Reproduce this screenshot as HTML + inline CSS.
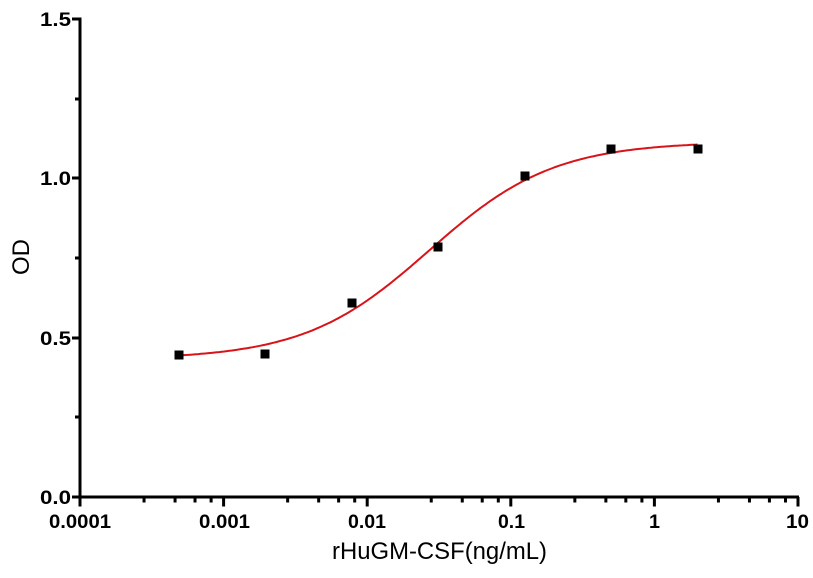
<!DOCTYPE html>
<html><head><style>
html,body{margin:0;padding:0;background:#fff}
svg text{font-family:"Liberation Sans",Arial,sans-serif}
</style></head><body>
<svg id="s" width="813" height="573" viewBox="0 0 813 573" xmlns="http://www.w3.org/2000/svg">
<g stroke="#000" stroke-width="3" fill="none">
<line x1="80" y1="17.5" x2="80" y2="498.5"/>
<line x1="78.5" y1="497" x2="799" y2="497"/>
<line x1="72" y1="19" x2="80" y2="19"/>
<line x1="75" y1="99" x2="80" y2="99"/>
<line x1="72" y1="178" x2="80" y2="178"/>
<line x1="75" y1="258" x2="80" y2="258"/>
<line x1="72" y1="338" x2="80" y2="338"/>
<line x1="75" y1="417" x2="80" y2="417"/>
<line x1="72" y1="497" x2="80" y2="497"/>
</g>
<g id="xt" stroke="#000" stroke-width="3"></g>
<g font-weight="bold" font-size="19" text-anchor="end" fill="#000">
<text x="71" y="26" textLength="31" lengthAdjust="spacingAndGlyphs">1.5</text>
<text x="71" y="185" textLength="31" lengthAdjust="spacingAndGlyphs">1.0</text>
<text x="71" y="345" textLength="31" lengthAdjust="spacingAndGlyphs">0.5</text>
<text x="71" y="504" textLength="31" lengthAdjust="spacingAndGlyphs">0.0</text>
</g>
<g font-weight="bold" font-size="19" fill="#000">
<text x="49" y="528" textLength="62" lengthAdjust="spacingAndGlyphs">0.0001</text>
<text x="199" y="528" textLength="51" lengthAdjust="spacingAndGlyphs">0.001</text>
<text x="348" y="528" textLength="38" lengthAdjust="spacingAndGlyphs">0.01</text>
<text x="498" y="528" textLength="27" lengthAdjust="spacingAndGlyphs">0.1</text>
<text x="649" y="528" textLength="11" lengthAdjust="spacingAndGlyphs">1</text>
<text x="786" y="528" textLength="23" lengthAdjust="spacingAndGlyphs">10</text>
</g>
<text x="332" y="559" font-size="24" textLength="215" lengthAdjust="spacingAndGlyphs">rHuGM-CSF(ng/mL)</text>
<text transform="translate(29,257) rotate(-90)" font-size="24" text-anchor="middle">OD</text>
<path id="c" fill="none" stroke="#d8141a" stroke-width="2"/>
<g fill="#000">
<rect x="174.5" y="350.5" width="9" height="9"/>
<rect x="260.5" y="349.5" width="9" height="9"/>
<rect x="347.5" y="298.5" width="9" height="9"/>
<rect x="433.5" y="242.5" width="9" height="9"/>
<rect x="520.5" y="171.5" width="9" height="9"/>
<rect x="606.5" y="144.5" width="9" height="9"/>
<rect x="693.5" y="144.5" width="9" height="9"/>
</g>
</svg>
<script>
var D=143.6,X0=80,Y0=497,S=318.7;
var g=document.getElementById('xt'),h='';
var fr=[0,0.446,0.662,0.801,0.913];
for(var d=0;d<5;d++){for(var k=0;k<fr.length;k++){var x=X0+D*(d+fr[k]);var L=k==0?8:4;h+='<line x1="'+x+'" y1="497" x2="'+x+'" y2="'+(497+L+1.5)+'"/>';}}
h+='<line x1="'+(X0+5*D)+'" y1="497" x2="'+(X0+5*D)+'" y2="506.5"/>';
g.innerHTML=h;
var b=0.432,t=1.115,lec=Math.log10(0.027),n=1.0,p='';
for(var i=0;i<=200;i++){var lx=Math.log10(0.0005)+(Math.log10(2)-Math.log10(0.0005))*i/200;
var y=b+(t-b)/(1+Math.pow(10,(lec-lx)*n));var px=X0+D*(lx+4),py=Y0-y*S;p+=(i?'L':'M')+px.toFixed(1)+' '+py.toFixed(1);}
document.getElementById('c').setAttribute('d',p);
</script>
</body></html>
